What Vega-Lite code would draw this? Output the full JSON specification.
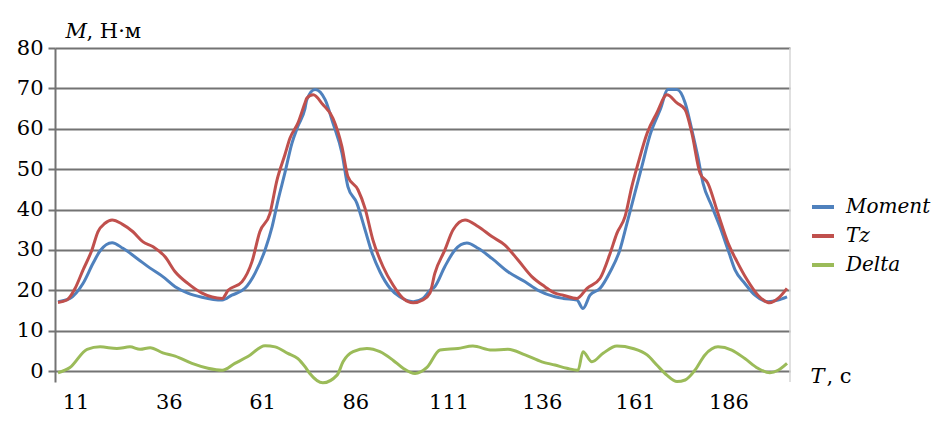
{
  "$schema": "https://vega.github.io/schema/vega-lite/v6.json",
  "width": 735,
  "height": 334,
  "autosize": "none",
  "padding": {"left": 55, "top": 48, "right": 143, "bottom": 59},
  "background": "white",
  "config": {"view": {"stroke": null}},
  "resolve": {"axis": {"x": "independent", "y": "independent"}},
  "layer": [
    {
      "data": {"values": [
        {"T": 6.3, "series": "Moment", "M": 17.2},
        {"T": 9.5, "series": "Moment", "M": 18},
        {"T": 13.0, "series": "Moment", "M": 21.7},
        {"T": 15.7, "series": "Moment", "M": 26.7},
        {"T": 17.6, "series": "Moment", "M": 29.8},
        {"T": 20.8, "series": "Moment", "M": 31.8},
        {"T": 23.7, "series": "Moment", "M": 30.4},
        {"T": 27.5, "series": "Moment", "M": 27.9},
        {"T": 31.0, "series": "Moment", "M": 25.5},
        {"T": 34.4, "series": "Moment", "M": 23.4},
        {"T": 37.7, "series": "Moment", "M": 20.9},
        {"T": 41.1, "series": "Moment", "M": 19.3},
        {"T": 44.9, "series": "Moment", "M": 18.3},
        {"T": 50.3, "series": "Moment", "M": 17.6},
        {"T": 52.9, "series": "Moment", "M": 18.8},
        {"T": 56.4, "series": "Moment", "M": 20.5},
        {"T": 59.1, "series": "Moment", "M": 24.2},
        {"T": 61.8, "series": "Moment", "M": 30},
        {"T": 63.7, "series": "Moment", "M": 35.8},
        {"T": 65.3, "series": "Moment", "M": 42.4},
        {"T": 67.1, "series": "Moment", "M": 49},
        {"T": 69.0, "series": "Moment", "M": 56.4},
        {"T": 70.6, "series": "Moment", "M": 60.6},
        {"T": 72.5, "series": "Moment", "M": 65},
        {"T": 73.0, "series": "Moment", "M": 67.2},
        {"T": 75.2, "series": "Moment", "M": 69.7},
        {"T": 77.9, "series": "Moment", "M": 67.2},
        {"T": 80.0, "series": "Moment", "M": 61.4},
        {"T": 82.4, "series": "Moment", "M": 54},
        {"T": 84.0, "series": "Moment", "M": 45.7},
        {"T": 86.4, "series": "Moment", "M": 41.6},
        {"T": 88.6, "series": "Moment", "M": 35},
        {"T": 90.5, "series": "Moment", "M": 29.2},
        {"T": 92.6, "series": "Moment", "M": 24.6},
        {"T": 95.3, "series": "Moment", "M": 20.5},
        {"T": 97.9, "series": "Moment", "M": 18.4},
        {"T": 101.5, "series": "Moment", "M": 17.2},
        {"T": 104.1, "series": "Moment", "M": 18},
        {"T": 106.0, "series": "Moment", "M": 20},
        {"T": 107.3, "series": "Moment", "M": 20.9},
        {"T": 110.0, "series": "Moment", "M": 25.9},
        {"T": 112.7, "series": "Moment", "M": 30},
        {"T": 115.9, "series": "Moment", "M": 31.7},
        {"T": 118.9, "series": "Moment", "M": 30.4},
        {"T": 122.6, "series": "Moment", "M": 27.9},
        {"T": 126.9, "series": "Moment", "M": 24.6},
        {"T": 131.5, "series": "Moment", "M": 22.1},
        {"T": 135.0, "series": "Moment", "M": 20},
        {"T": 139.5, "series": "Moment", "M": 18.4},
        {"T": 141.7, "series": "Moment", "M": 18},
        {"T": 145.4, "series": "Moment", "M": 17.6},
        {"T": 147.0, "series": "Moment", "M": 15.5},
        {"T": 148.9, "series": "Moment", "M": 18.8},
        {"T": 151.6, "series": "Moment", "M": 20.5},
        {"T": 154.3, "series": "Moment", "M": 24.6},
        {"T": 156.9, "series": "Moment", "M": 30},
        {"T": 158.8, "series": "Moment", "M": 36.6},
        {"T": 160.9, "series": "Moment", "M": 44},
        {"T": 162.8, "series": "Moment", "M": 50.7},
        {"T": 165.0, "series": "Moment", "M": 58.5},
        {"T": 167.7, "series": "Moment", "M": 64.7},
        {"T": 169.8, "series": "Moment", "M": 69.7},
        {"T": 172.2, "series": "Moment", "M": 69.7},
        {"T": 174.4, "series": "Moment", "M": 66.4},
        {"T": 176.2, "series": "Moment", "M": 59.7},
        {"T": 177.8, "series": "Moment", "M": 53.1},
        {"T": 179.2, "series": "Moment", "M": 46.5},
        {"T": 181.6, "series": "Moment", "M": 40.7},
        {"T": 183.7, "series": "Moment", "M": 35.8},
        {"T": 185.9, "series": "Moment", "M": 30},
        {"T": 187.8, "series": "Moment", "M": 25},
        {"T": 190.4, "series": "Moment", "M": 21.7},
        {"T": 193.1, "series": "Moment", "M": 18.8},
        {"T": 196.6, "series": "Moment", "M": 17.2},
        {"T": 199.3, "series": "Moment", "M": 17.6},
        {"T": 201.7, "series": "Moment", "M": 18.4},

        {"T": 6.3, "series": "Tz", "M": 17},
        {"T": 8.7, "series": "Tz", "M": 17.6},
        {"T": 10.9, "series": "Tz", "M": 20.5},
        {"T": 13.0, "series": "Tz", "M": 25},
        {"T": 15.4, "series": "Tz", "M": 30},
        {"T": 17.0, "series": "Tz", "M": 34.5},
        {"T": 18.9, "series": "Tz", "M": 36.6},
        {"T": 20.8, "series": "Tz", "M": 37.4},
        {"T": 23.5, "series": "Tz", "M": 36.4},
        {"T": 26.4, "series": "Tz", "M": 34.5},
        {"T": 29.1, "series": "Tz", "M": 32},
        {"T": 31.8, "series": "Tz", "M": 30.8},
        {"T": 35.0, "series": "Tz", "M": 28.3},
        {"T": 37.7, "series": "Tz", "M": 24.6},
        {"T": 41.1, "series": "Tz", "M": 21.7},
        {"T": 44.9, "series": "Tz", "M": 19.3},
        {"T": 50.3, "series": "Tz", "M": 18},
        {"T": 51.9, "series": "Tz", "M": 20},
        {"T": 55.6, "series": "Tz", "M": 22.1},
        {"T": 58.3, "series": "Tz", "M": 27.1},
        {"T": 60.4, "series": "Tz", "M": 34.5},
        {"T": 63.1, "series": "Tz", "M": 39},
        {"T": 65.0, "series": "Tz", "M": 47.3},
        {"T": 67.1, "series": "Tz", "M": 53.5},
        {"T": 68.5, "series": "Tz", "M": 57.7},
        {"T": 70.6, "series": "Tz", "M": 61.4},
        {"T": 72.5, "series": "Tz", "M": 66.4},
        {"T": 73.0, "series": "Tz", "M": 67.6},
        {"T": 74.7, "series": "Tz", "M": 68.4},
        {"T": 77.3, "series": "Tz", "M": 66},
        {"T": 80.0, "series": "Tz", "M": 62.6},
        {"T": 82.4, "series": "Tz", "M": 55.6},
        {"T": 84.0, "series": "Tz", "M": 48.2},
        {"T": 86.7, "series": "Tz", "M": 44.9},
        {"T": 88.6, "series": "Tz", "M": 40.3},
        {"T": 90.7, "series": "Tz", "M": 32.5},
        {"T": 93.4, "series": "Tz", "M": 25.9},
        {"T": 96.1, "series": "Tz", "M": 21.3},
        {"T": 98.8, "series": "Tz", "M": 18},
        {"T": 101.5, "series": "Tz", "M": 16.9},
        {"T": 104.1, "series": "Tz", "M": 17.6},
        {"T": 106.0, "series": "Tz", "M": 19.3},
        {"T": 107.3, "series": "Tz", "M": 24.2},
        {"T": 110.0, "series": "Tz", "M": 30},
        {"T": 112.2, "series": "Tz", "M": 35},
        {"T": 115.4, "series": "Tz", "M": 37.4},
        {"T": 118.9, "series": "Tz", "M": 35.8},
        {"T": 122.6, "series": "Tz", "M": 33.3},
        {"T": 126.1, "series": "Tz", "M": 31.2},
        {"T": 129.6, "series": "Tz", "M": 27.5},
        {"T": 133.3, "series": "Tz", "M": 23.4},
        {"T": 136.8, "series": "Tz", "M": 20.9},
        {"T": 139.5, "series": "Tz", "M": 19.3},
        {"T": 141.7, "series": "Tz", "M": 18.8},
        {"T": 145.4, "series": "Tz", "M": 18},
        {"T": 148.1, "series": "Tz", "M": 20.5},
        {"T": 151.6, "series": "Tz", "M": 23},
        {"T": 154.3, "series": "Tz", "M": 29.2},
        {"T": 156.1, "series": "Tz", "M": 34.1},
        {"T": 158.3, "series": "Tz", "M": 38.3},
        {"T": 160.1, "series": "Tz", "M": 45.7},
        {"T": 161.8, "series": "Tz", "M": 51.5},
        {"T": 164.2, "series": "Tz", "M": 58.9},
        {"T": 166.8, "series": "Tz", "M": 63.9},
        {"T": 169.5, "series": "Tz", "M": 68.4},
        {"T": 172.2, "series": "Tz", "M": 66.4},
        {"T": 174.4, "series": "Tz", "M": 64.7},
        {"T": 176.2, "series": "Tz", "M": 58.9},
        {"T": 178.4, "series": "Tz", "M": 49},
        {"T": 180.5, "series": "Tz", "M": 46.5},
        {"T": 183.2, "series": "Tz", "M": 39},
        {"T": 185.9, "series": "Tz", "M": 31.7},
        {"T": 188.3, "series": "Tz", "M": 27.1},
        {"T": 191.0, "series": "Tz", "M": 22.6},
        {"T": 193.9, "series": "Tz", "M": 18.8},
        {"T": 197.1, "series": "Tz", "M": 16.9},
        {"T": 199.3, "series": "Tz", "M": 18},
        {"T": 201.7, "series": "Tz", "M": 20.5},

        {"T": 6.3, "series": "Delta", "M": -0.4},
        {"T": 9.5, "series": "Delta", "M": 0.9},
        {"T": 14.1, "series": "Delta", "M": 5.4},
        {"T": 17.6, "series": "Delta", "M": 6},
        {"T": 22.1, "series": "Delta", "M": 5.6},
        {"T": 25.6, "series": "Delta", "M": 6},
        {"T": 28.3, "series": "Delta", "M": 5.4},
        {"T": 31.0, "series": "Delta", "M": 5.8},
        {"T": 34.4, "series": "Delta", "M": 4.5},
        {"T": 37.7, "series": "Delta", "M": 3.7},
        {"T": 42.2, "series": "Delta", "M": 1.9},
        {"T": 46.5, "series": "Delta", "M": 0.7},
        {"T": 50.3, "series": "Delta", "M": 0.2},
        {"T": 53.7, "series": "Delta", "M": 1.9},
        {"T": 57.2, "series": "Delta", "M": 3.6},
        {"T": 61.8, "series": "Delta", "M": 6.3},
        {"T": 64.5, "series": "Delta", "M": 6},
        {"T": 67.9, "series": "Delta", "M": 4.4},
        {"T": 70.6, "series": "Delta", "M": 3.1},
        {"T": 72.5, "series": "Delta", "M": 1.1},
        {"T": 73.8, "series": "Delta", "M": -0.6},
        {"T": 77.3, "series": "Delta", "M": -2.9},
        {"T": 81.1, "series": "Delta", "M": -1},
        {"T": 82.7, "series": "Delta", "M": 2.3},
        {"T": 85.4, "series": "Delta", "M": 4.8},
        {"T": 89.1, "series": "Delta", "M": 5.6},
        {"T": 92.6, "series": "Delta", "M": 4.8},
        {"T": 96.1, "series": "Delta", "M": 2.7},
        {"T": 98.8, "series": "Delta", "M": 0.7},
        {"T": 102.0, "series": "Delta", "M": -0.6},
        {"T": 105.2, "series": "Delta", "M": 0.9},
        {"T": 108.7, "series": "Delta", "M": 5.2},
        {"T": 113.5, "series": "Delta", "M": 5.6},
        {"T": 117.5, "series": "Delta", "M": 6.2},
        {"T": 122.6, "series": "Delta", "M": 5.2},
        {"T": 126.9, "series": "Delta", "M": 5.4},
        {"T": 131.5, "series": "Delta", "M": 4},
        {"T": 136.0, "series": "Delta", "M": 2.3},
        {"T": 139.5, "series": "Delta", "M": 1.5},
        {"T": 142.7, "series": "Delta", "M": 0.7},
        {"T": 145.7, "series": "Delta", "M": 0.2},
        {"T": 147.0, "series": "Delta", "M": 4.8},
        {"T": 149.4, "series": "Delta", "M": 2.3},
        {"T": 152.4, "series": "Delta", "M": 4.4},
        {"T": 156.1, "series": "Delta", "M": 6.2},
        {"T": 160.4, "series": "Delta", "M": 5.6},
        {"T": 164.2, "series": "Delta", "M": 4},
        {"T": 166.8, "series": "Delta", "M": 1.5},
        {"T": 169.5, "series": "Delta", "M": -1},
        {"T": 172.2, "series": "Delta", "M": -2.6},
        {"T": 174.4, "series": "Delta", "M": -2.2},
        {"T": 177.0, "series": "Delta", "M": 0.2},
        {"T": 179.7, "series": "Delta", "M": 4},
        {"T": 183.2, "series": "Delta", "M": 6},
        {"T": 186.9, "series": "Delta", "M": 5.2},
        {"T": 190.4, "series": "Delta", "M": 3.1},
        {"T": 193.9, "series": "Delta", "M": 0.7},
        {"T": 197.1, "series": "Delta", "M": -0.4},
        {"T": 199.3, "series": "Delta", "M": 0.2},
        {"T": 201.7, "series": "Delta", "M": 1.9}
      ]},
      "mark": {"type": "line", "strokeWidth": 3, "interpolate": "monotone"},
      "encoding": {
        "x": {
          "field": "T", "type": "quantitative",
          "scale": {"domain": [5.5, 202.5], "nice": false, "zero": false},
          "axis": {
            "orient": "bottom",
            "values": [11, 36, 61, 86, 111, 136, 161, 186],
            "grid": false, "domain": false, "ticks": false,
            "labelPadding": 9, "labelFontSize": 21, "labelColor": "black",
            "labelFont": "DejaVu Serif", "labelFlush": false,
            "title": "T",
            "titleFont": "DejaVu Serif", "titleFontSize": 21, "titleFontWeight": "normal", "titleFontStyle": "italic",
            "titleColor": "black", "titleAlign": "left", "titleBaseline": "alphabetic",
            "titleAnchor": "start", "titleX": 755, "titleY": 0
          }
        },
        "y": {
          "field": "M", "type": "quantitative",
          "scale": {"domain": [-2.7, 80], "nice": false, "zero": false},
          "axis": {
            "orient": "left",
            "values": [0, 10, 20, 30, 40, 50, 60, 70, 80],
            "grid": true, "gridColor": "#737373", "gridWidth": 2, "gridOpacity": 1,
            "domain": true, "domainColor": "#737373", "domainWidth": 2,
            "ticks": true, "tickSize": 7, "tickColor": "#737373", "tickWidth": 2,
            "labelPadding": 5, "labelFontSize": 21, "labelColor": "black",
            "labelFont": "DejaVu Serif",
            "title": "M",
            "titleFont": "DejaVu Serif", "titleFontSize": 21, "titleFontWeight": "normal", "titleFontStyle": "italic",
            "titleColor": "black", "titleAngle": 0, "titleAlign": "left",
            "titleBaseline": "alphabetic", "titleX": 10, "titleY": -11
          }
        },
        "color": {
          "field": "series", "type": "nominal",
          "scale": {"domain": ["Moment", "Tz", "Delta"], "range": ["#4F81BD", "#C0504D", "#9BBB59"]},
          "legend": {
            "orient": "none", "legendX": 755, "legendY": 146, "title": null,
            "symbolType": "stroke", "symbolSize": 484, "symbolStrokeWidth": 4,
            "labelFont": "DejaVu Serif", "labelFontStyle": "italic", "labelFontSize": 20,
            "labelColor": "black", "labelOffset": 10, "rowPadding": 6, "padding": 0
          }
        }
      }
    },
    {
      "data": {"values": [{}]},
      "mark": {"type": "rule", "color": "#d6d6d6", "strokeWidth": 1.5},
      "encoding": {
        "x": {
          "datum": 202.5, "type": "quantitative",
          "axis": {
            "orient": "top", "labels": false, "ticks": false, "domain": false, "grid": false,
            "title": ", Н·м",
            "titleFont": "DejaVu Serif", "titleFontSize": 21, "titleFontWeight": "normal",
            "titleColor": "black", "titleAlign": "left", "titleBaseline": "alphabetic",
            "titleAnchor": "start", "titleX": 31, "titleY": -11
          }
        },
        "y": {
          "datum": -2.7, "type": "quantitative",
          "axis": {
            "orient": "right", "labels": false, "ticks": false, "domain": false, "grid": false,
            "title": ", с",
            "titleFont": "DejaVu Serif", "titleFontSize": 21, "titleFontWeight": "normal",
            "titleColor": "black", "titleAngle": 0, "titleAlign": "left", "titleBaseline": "alphabetic",
            "titleX": 36, "titleY": 334
          }
        },
        "y2": {"datum": 80}
      }
    }
  ]
}
